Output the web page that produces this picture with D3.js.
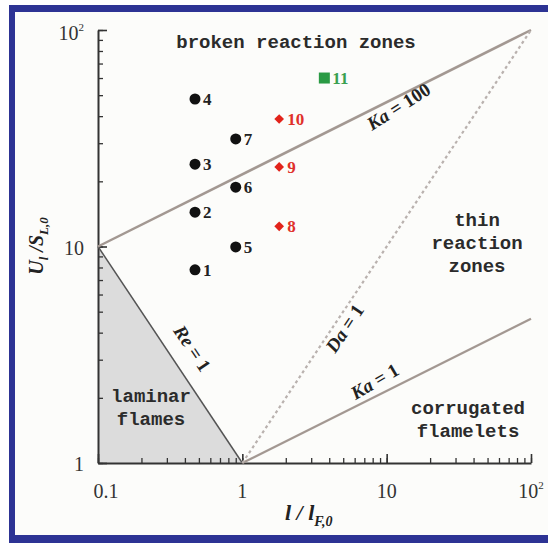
<html>
<head>
  <script src="https://d3js.org/d3.v7.min.js"></script>
  <style>
    body { margin: 0; background: #fff; }
    .mono { font-family: 'Liberation Mono', 'DejaVu Sans Mono', monospace; font-weight: bold; fill: #2b2b2b; }
    .serif { font-family: 'Liberation Serif', 'DejaVu Serif', serif; }
  </style>
</head>
<body>
  <svg id="regime" width="548" height="544"></svg>
  <script>
    // ----
    // DATA
    // ----
    const blackX = [0.47, 0.47, 0.47, 0.47, 0.9, 0.9, 0.9];
    const blackY = [7.8, 14.4, 24, 48, 9.95, 18.8, 31.4];
    const blackIds = ["1", "2", "3", "4", "5", "6", "7"];
    const redX = [1.8, 1.8, 1.8];
    const redY = [12.4, 23.3, 38.8];
    const redIds = ["8", "9", "10"];
    const greenX = [3.7];
    const greenY = [60];
    const greenIds = ["11"];

    // regime boundary lines (end points)
    const kaHundred = [[0.1, 10], [100, 100]];
    const kaOne = [[1, 1], [100, 4.64]];
    const daOne = [[1, 1], [100, 100]];
    const reOne = [[0.1, 10], [1, 1]];
    const laminar = [[0.1, 1], [0.1, 10], [1, 1]];

    const xTickValues = [0.1, 1, 10, 100];
    const xTickLabels = ["0.1", "1", "10", "10"];
    const yTickValues = [1, 10, 100];
    const yTickLabels = ["1", "10", "10"];

    // ----------
    // DIMENSIONS
    // ----------
    const svg = d3.select("svg#regime");
    const margin = { top: 30, right: 17, bottom: 81, left: 98 };
    const W = 548, H = 544;

    // frame
    svg.append("rect").attr("x", 0).attr("y", 0).attr("width", W).attr("height", H).attr("fill", "#fff");
    svg.append("rect").attr("x", 9).attr("y", 5).attr("width", 548).attr("height", 538).attr("fill", "#2d3394");
    svg.append("rect").attr("x", 15).attr("y", 12).attr("width", 533).attr("height", 523).attr("fill", "#fcfcfa");

    const x = d3.scaleLog().domain([0.1, 100]).range([margin.left, W - margin.right]);
    const y = d3.scaleLog().domain([1, 100]).range([H - margin.bottom, margin.top]);
    const line = d3.line().x(d => x(d[0])).y(d => y(d[1]));

    // shaded laminar region
    svg.append("path").attr("d", line(laminar) + "Z").attr("fill", "#dcdcdc");

    // ----
    // AXES
    // ----
    const minorX = x.ticks();
    const minorY = y.ticks();
    svg.append("g")
      .attr("transform", `translate(0,${y(1)})`)
      .call(d3.axisBottom(x).tickValues(minorX).tickSize(-5).tickSizeOuter(0).tickFormat(""))
      .call(g => g.selectAll("line").attr("stroke", "#333").attr("stroke-width", 1.3))
      .call(g => g.select(".domain").attr("stroke", "#333").attr("stroke-width", 2));
    svg.append("g")
      .attr("transform", `translate(0,${y(1)})`)
      .call(d3.axisBottom(x).tickValues(xTickValues).tickSize(-9).tickSizeOuter(0).tickFormat(""))
      .call(g => g.selectAll("line").attr("stroke", "#333").attr("stroke-width", 1.6))
      .call(g => g.select(".domain").remove());
    svg.append("g")
      .attr("transform", `translate(${x(0.1)},0)`)
      .call(d3.axisLeft(y).tickValues(minorY).tickSize(-5).tickSizeOuter(0).tickFormat(""))
      .call(g => g.selectAll("line").attr("stroke", "#333").attr("stroke-width", 1.3))
      .call(g => g.select(".domain").attr("stroke", "#333").attr("stroke-width", 2));
    svg.append("g")
      .attr("transform", `translate(${x(0.1)},0)`)
      .call(d3.axisLeft(y).tickValues(yTickValues).tickSize(-9).tickSizeOuter(0).tickFormat(""))
      .call(g => g.selectAll("line").attr("stroke", "#333").attr("stroke-width", 1.6))
      .call(g => g.select(".domain").remove());

    // tick labels
    xTickValues.forEach((v, i) => {
      const t = svg.append("text").attr("class", "serif")
        .attr("x", x(v) + (i === 0 ? 8 : 0)).attr("y", y(1) + 35)
        .attr("text-anchor", "middle").attr("font-size", 20).attr("fill", "#333")
        .text(xTickLabels[i]);
      if (i === 3) t.append("tspan").attr("dy", -9).attr("font-size", 11).text("2");
    });
    yTickValues.forEach((v, i) => {
      const t = svg.append("text").attr("class", "serif")
        .attr("x", x(0.1) - 14).attr("y", y(v) + (i === 2 ? 10 : 8))
        .attr("text-anchor", "end").attr("font-size", 20).attr("fill", "#333")
        .text(yTickLabels[i]);
      if (i === 2) t.append("tspan").attr("dy", -9).attr("font-size", 11).text("2");
    });

    // axis titles
    const yTitle = svg.append("text").attr("class", "serif")
      .attr("transform", `translate(43,246) rotate(-90)`)
      .attr("text-anchor", "middle").attr("font-size", 20).attr("font-weight", "bold")
      .attr("font-style", "italic").attr("fill", "#222");
    yTitle.append("tspan").text("U");
    yTitle.append("tspan").attr("font-size", 13).attr("dy", 5).text("l");
    yTitle.append("tspan").attr("dy", -5).text(" /S");
    yTitle.append("tspan").attr("font-size", 13).attr("dy", 5).text("L,0");

    const xTitle = svg.append("text").attr("class", "serif")
      .attr("x", 285).attr("y", 520)
      .attr("font-size", 22).attr("font-weight", "bold")
      .attr("font-style", "italic").attr("fill", "#222");
    xTitle.append("tspan").text("l / l");
    xTitle.append("tspan").attr("font-size", 14).attr("dy", 6).text("F,0");

    // --------------
    // REGIME LINES
    // --------------
    svg.append("path").attr("d", line(reOne)).attr("fill", "none")
      .attr("stroke", "#555").attr("stroke-width", 1.5);
    svg.append("path").attr("d", line(kaHundred)).attr("fill", "none")
      .attr("stroke", "#a39892").attr("stroke-width", 2.5);
    svg.append("path").attr("d", line(kaOne)).attr("fill", "none")
      .attr("stroke", "#a39892").attr("stroke-width", 2.2);
    svg.append("path").attr("d", line(daOne)).attr("fill", "none")
      .attr("stroke", "#b9b1ae").attr("stroke-width", 2.2).attr("stroke-dasharray", "3,3");

    const angle = seg => Math.atan2(y(seg[1][1]) - y(seg[0][1]), x(seg[1][0]) - x(seg[0][0])) * 180 / Math.PI;
    const lineLabel = (cx, cy, ang, name, val) => {
      const t = svg.append("text").attr("class", "serif")
        .attr("transform", `translate(${cx},${cy}) rotate(${ang})`)
        .attr("text-anchor", "middle").attr("font-size", 19).attr("font-weight", "bold")
        .attr("fill", "#222");
      t.append("tspan").attr("font-style", "italic").text(name);
      t.append("tspan").text(" = " + val);
    };
    lineLabel(402, 112, angle(kaHundred) - 6, "Ka", "100");
    lineLabel(350, 332, angle(daOne), "Da", "1");
    lineLabel(378, 387, angle(kaOne) - 4, "Ka", "1");
    lineLabel(187, 352, angle(reOne), "Re", "1");

    // region labels
    const region = (cx, cy, lines) => {
      lines.forEach((s, i) => svg.append("text").attr("class", "mono")
        .attr("x", cx).attr("y", cy + i * 23).attr("text-anchor", "middle")
        .attr("font-size", 19).text(s));
    };
    region(296, 48, ["broken reaction zones"]);
    region(477, 226, ["thin", "reaction", "zones"]);
    region(151, 402, ["laminar", "flames"]);
    region(468, 414, ["corrugated", "flamelets"]);

    // -------
    // MARKERS
    // -------
    const ptLabel = (px, py, ids, color) => {
      svg.selectAll(null).data(ids).join("text").attr("class", "serif")
        .attr("x", (d, i) => x(px[i]) + 8).attr("y", (d, i) => y(py[i]) + 6)
        .attr("font-size", 17).attr("font-weight", "bold").attr("fill", color)
        .text(d => d);
    };
    svg.selectAll("circle.pt").data(blackX).join("circle").attr("class", "pt")
      .attr("cx", d => x(d)).attr("cy", (d, i) => y(blackY[i])).attr("r", 5.5).attr("fill", "#111");
    ptLabel(blackX, blackY, blackIds, "#222");

    svg.selectAll("path.dia").data(redX).join("path").attr("class", "dia")
      .attr("transform", (d, i) => `translate(${x(d)},${y(redY[i])})`)
      .attr("d", d3.symbol(d3.symbolDiamond2, 60)).attr("fill", "#e2231a");
    ptLabel(redX, redY, redIds, "#e0302a");

    svg.selectAll("rect.sq").data(greenX).join("rect").attr("class", "sq")
      .attr("x", d => x(d) - 5.5).attr("y", (d, i) => y(greenY[i]) - 5.5)
      .attr("width", 11).attr("height", 11).attr("fill", "#2a9a44");
    ptLabel(greenX, greenY, greenIds, "#3aa050");
  </script>
</body>
</html>
